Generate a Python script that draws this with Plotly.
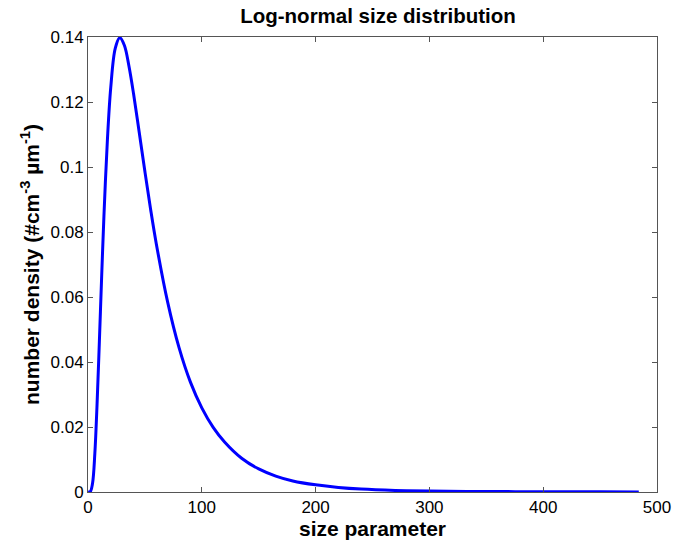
import plotly.graph_objects as go

size_param = [0, 2, 4, 6, 8, 10, 12, 14, 17, 20, 24, 28, 32, 36, 40, 45, 50, 55, 60,
              70, 80, 90, 100, 110, 120, 135, 150, 165, 180, 200, 220, 240, 270, 300,
              350, 400, 450, 484]
density = [0.0, 0.0001, 0.0027, 0.0118, 0.0273, 0.0464, 0.0663, 0.0849, 0.108, 0.1245,
           0.1366, 0.1398, 0.1374, 0.131, 0.1226, 0.1107, 0.0986, 0.087, 0.0764,
           0.0584, 0.0444, 0.0338, 0.0259, 0.0199, 0.0154, 0.0104, 0.0071, 0.0049,
           0.0034, 0.0022, 0.0014, 0.0009, 0.0005, 0.0003, 0.00015, 0.00008, 0.00005,
           0.00003]

x_ticks = [0, 100, 200, 300, 400, 500]
y_ticks = [0, 0.02, 0.04, 0.06, 0.08, 0.1, 0.12, 0.14]
y_tick_labels = ["0", "0.02", "0.04", "0.06", "0.08", "0.1", "0.12", "0.14"]

font = "Liberation Sans, Arial, sans-serif"

fig = go.Figure()
fig.add_trace(go.Scatter(x=size_param, y=density, mode="lines",
                         line=dict(color="#0000FF", width=3, shape="spline"),
                         showlegend=False))

axis_common = dict(showline=True, mirror="ticks", linecolor="#555555", linewidth=1,
                   ticks="inside", ticklen=5, tickcolor="#555555", showgrid=False,
                   zeroline=False, tickfont=dict(family=font, size=17, color="black"))

fig.update_layout(
    width=683, height=548,
    margin=dict(l=88, r=16, t=37, b=55),
    paper_bgcolor="white", plot_bgcolor="white",
    title=dict(text="<b>Log-normal size distribution</b>", x=378 / 683,
               xanchor="center", y=1 - 16 / 548, yanchor="middle",
               font=dict(family=font, size=20.5, color="black")),
    xaxis=dict(range=[0, 500], tickvals=x_ticks,
               title=dict(text="<b>size parameter</b>", standoff=4,
                          font=dict(family=font, size=21, color="black")),
               **axis_common),
    yaxis=dict(range=[0, 0.14], tickvals=y_ticks, ticktext=y_tick_labels,
               title=dict(text="<b>number density (#cm<sup>-3</sup> µm<sup>-1</sup>)</b>",
                          standoff=5, font=dict(family=font, size=21, color="black")),
               **axis_common),
)

fig.write_html("out.html")
